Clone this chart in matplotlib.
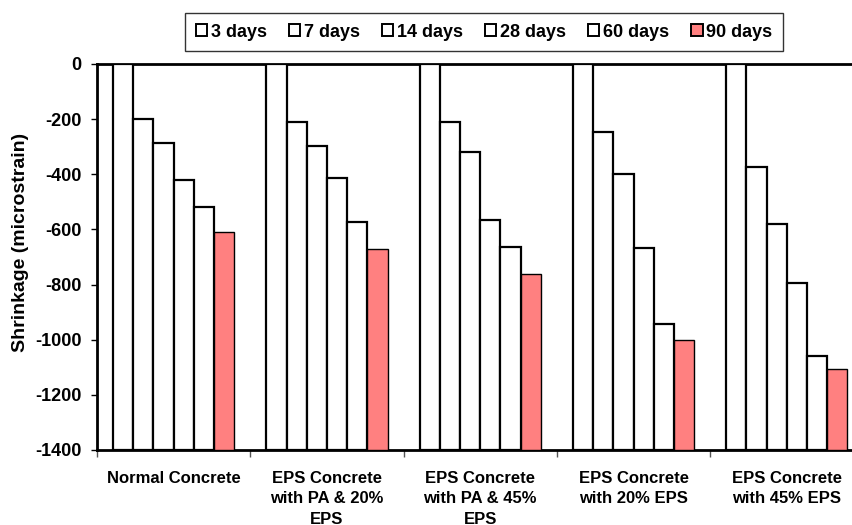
import matplotlib
matplotlib.use("Agg")
import matplotlib.pyplot as plt
from matplotlib.patches import Patch
import numpy as np

plt.rcParams['font.family'] = ['Liberation Sans', 'DejaVu Sans']
plt.rcParams['font.weight'] = 'bold'

categories = ["Normal Concrete", "EPS Concrete\nwith PA & 20%\nEPS", "EPS Concrete\nwith PA & 45%\nEPS",
              "EPS Concrete\nwith 20% EPS", "EPS Concrete\nwith 45% EPS"]
series_names = ["3 days", "7 days", "14 days", "28 days", "60 days", "90 days"]
d3 = [0, 0, 0, 0, 0]
d7 = [-200, -210, -210, -248, -372]
d14 = [-285, -298, -319, -400, -579]
d28 = [-420, -413, -566, -667, -796]
d60 = [-517, -573, -664, -943, -1059]
d90 = [-609, -671, -762, -1001, -1105]
series = [d3, d7, d14, d28, d60, d90]
colors = ["white", "white", "white", "white", "white", "#FF8080"]
yticks = [0, -200, -400, -600, -800, -1000, -1200, -1400]

fig = plt.figure(figsize=(8.52, 5.25), dpi=100)
ax = fig.add_axes([97/852, 1-450/525, 766.5/852, 386/525])

base = -1400
x = np.arange(len(categories))
w = 0.1318
for i, (vals, c) in enumerate(zip(series, colors)):
    v = np.array(vals, dtype=float)
    ax.bar(x + (i - 2.5) * w, v - base, bottom=base, width=w, color=c,
           edgecolor="black", linewidth=1.6 if c == "white" else 1.0, zorder=3)

ax.set_xlim(-0.5, len(categories) - 0.5)
ax.set_ylim(-1400, 0)
ax.set_yticks(yticks)
ax.set_yticklabels([str(t) for t in yticks], fontsize=13, fontweight='bold')
ax.tick_params(axis='y', direction='out', length=4, width=1, pad=7)

ax.set_xticks(np.arange(-0.5, len(categories), 1.0))
ax.set_xticklabels([])
ax.tick_params(axis='x', which='major', direction='out', length=5, width=1, colors='#555555')
ax.set_xticks(x, minor=True)
ax.set_xticklabels(categories, minor=True, fontsize=12, fontweight='bold', linespacing=1.45)
ax.tick_params(axis='x', which='minor', length=0, pad=15, labelcolor='black')

for s in ax.spines.values():
    s.set_linewidth(2)
    s.set_color('black')

ax.set_ylabel("Shrinkage (microstrain)", fontsize=14, fontweight='bold')
ax.yaxis.set_label_coords(-(97 - 29) / 766.5, (450 - 242) / 386)

handles = [Patch(facecolor=c, edgecolor='black', linewidth=1.4) for c in colors]
leg = fig.legend(handles, series_names, loc='center', bbox_to_anchor=(0.568, 0.939), ncol=6,
                 frameon=True, fancybox=False, edgecolor='black', fontsize=13,
                 handlelength=0.65, handleheight=0.65, handletextpad=0.2, columnspacing=1.2,
                 borderpad=0.6)
leg.get_frame().set_linewidth(1.0)
for t in leg.get_texts():
    t.set_fontweight('bold')

fig.savefig("out.png", dpi=100)
